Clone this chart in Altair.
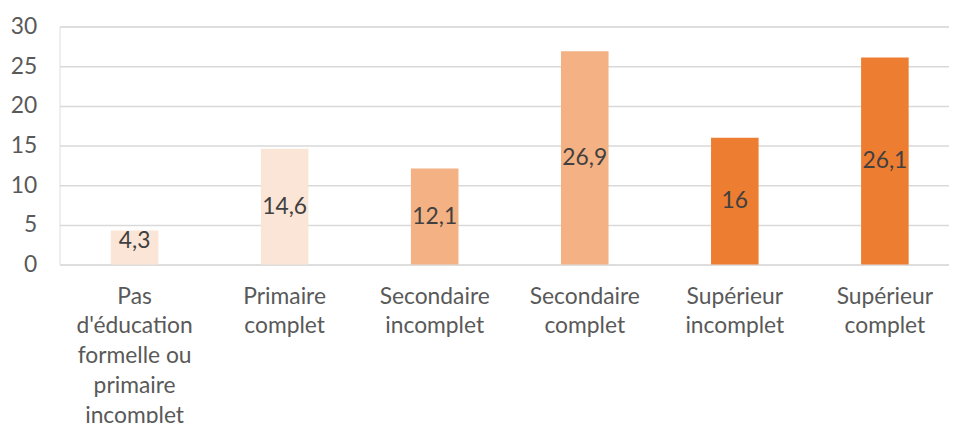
import altair as alt
import pandas as pd

categories = [
    "Pas\nd'éducation\nformelle ou\nprimaire\nincomplet",
    "Primaire\ncomplet",
    "Secondaire\nincomplet",
    "Secondaire\ncomplet",
    "Supérieur\nincomplet",
    "Supérieur\ncomplet",
]
values = [4.3, 14.6, 12.1, 26.9, 16.0, 26.1]
labels = ["4,3", "14,6", "12,1", "26,9", "16", "26,1"]
colors = ["#FBE5D6", "#FBE5D6", "#F4B183", "#F4B183", "#ED7D31", "#ED7D31"]
y_ticks = [0, 5, 10, 15, 20, 25, 30]

df = pd.DataFrame({"cat": categories, "val": values, "lab": labels, "col": colors})

FONT = "Lato"

x_axis = alt.Axis(
    labelAngle=0,
    labelExpr="split(datum.value, '\\n')",
    labelFont=FONT,
    labelFontSize=23,
    labelColor="#595959",
    labelLineHeight=30,
    labelPadding=21,
    labelBaseline="top",
    ticks=False,
    domain=False,
    grid=False,
    labelLimit=300,
)
x_scale = alt.Scale(range=[0, 908], paddingInner=0.683, paddingOuter=0.3415)

y_axis = alt.Axis(
    values=y_ticks,
    labelOverlap=False,
    labelFont=FONT,
    labelFontSize=23,
    labelColor="#595959",
    labelPadding=23,
    ticks=False,
    domain=False,
    gridColor="#D9D9D9",
    gridWidth=1.5,
)
y_scale = alt.Scale(domain=[0, 30], nice=False)

bars = alt.Chart(df).mark_bar().encode(
    x=alt.X("cat:N", sort=categories, title=None, scale=x_scale, axis=x_axis),
    y=alt.Y("val:Q", scale=y_scale, title=None, axis=y_axis),
    color=alt.Color("col:N", scale=None, legend=None),
)

text = alt.Chart(df).transform_calculate(
    ypos="max(datum.val / 2, 3)"
).mark_text(font=FONT, fontSize=23, color="#404040", baseline="middle").encode(
    x=alt.X("cat:N", sort=categories, title=None, scale=x_scale, axis=x_axis),
    y=alt.Y("ypos:Q", scale=y_scale, title=None, axis=y_axis),
    text="lab:N",
)

chart = (
    alt.layer(bars, text)
    .properties(
        width=897,
        height=240,
        autosize=alt.AutoSizeParams(type="none"),
        padding={"left": 52, "top": 17, "right": 0, "bottom": 158},
    )
    .configure_view(strokeWidth=0, stroke="transparent")
    .configure(background="white")
)

chart.save("out.html", embed_options={"renderer": "svg", "actions": False})
